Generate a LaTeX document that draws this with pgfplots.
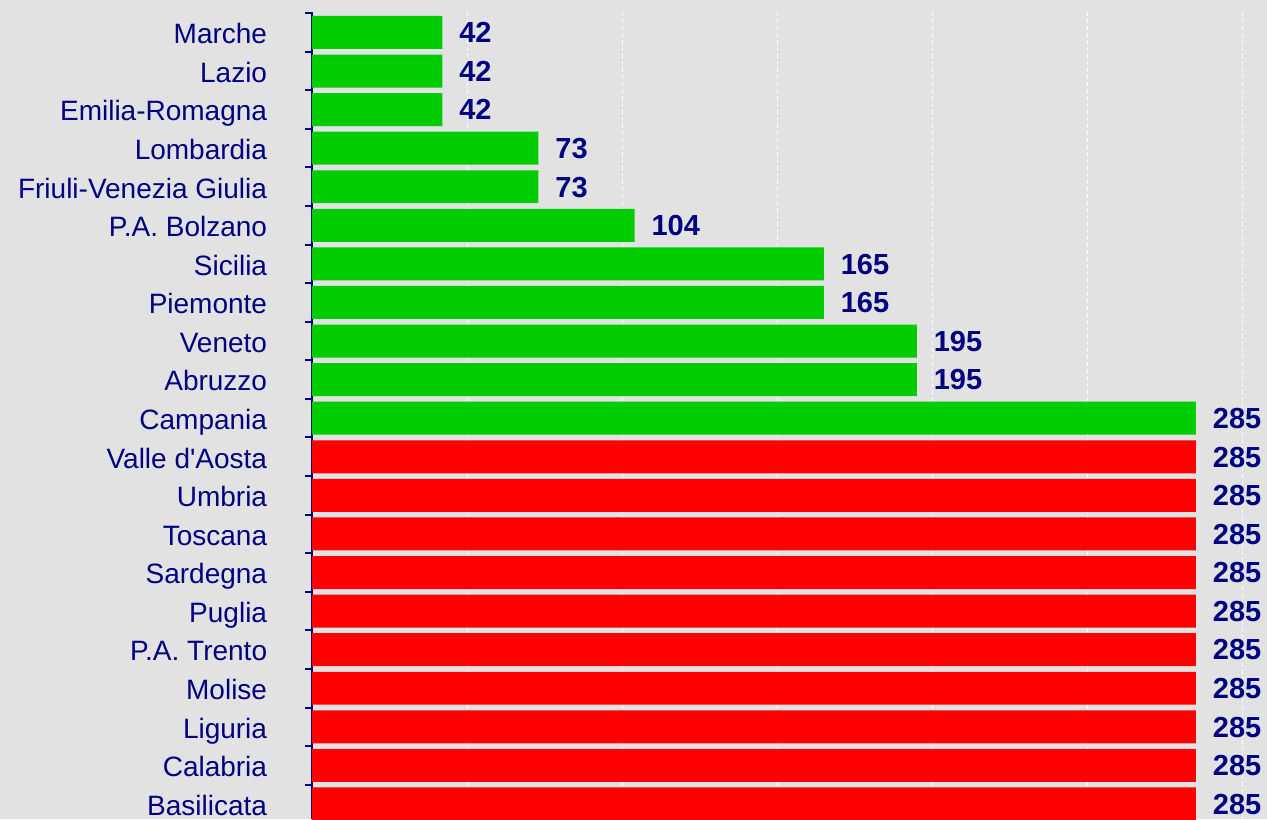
\documentclass[border=0pt]{standalone}
\usepackage{pgfplots}
\pgfplotsset{compat=1.18}
\usepackage{fontspec}
\setmainfont{Liberation Sans}

\definecolor{bg}{RGB}{226,226,226}
\definecolor{navytext}{RGB}{0,0,128}
\definecolor{barg}{RGB}{0,204,0}
\definecolor{barr}{RGB}{255,0,0}

\begin{document}
\begin{tikzpicture}
% textured page background, drawn as a flat grey
\fill[bg] (-156pt,0) rectangle (477.5pt,409.5pt);
\begin{axis}[
  at={(0,0)}, anchor=south west,
  width=477.5pt, height=403.5pt, scale only axis,
  /pgf/number format/assume math mode=true,
  xbar, bar width=0.855, bar shift=0pt,
  xmin=0, xmax=307.9,
  ymin=-0.53, ymax=20.39, y dir=reverse,
  axis lines*=left,
  x axis line style={draw=none},
  y axis line style={draw=navytext, line width=1pt, -},
  xtick={50,100,...,300}, xticklabels={},
  xtick style={draw=none},
  xmajorgrids,
  major x grid style={white, line width=0.5pt, dash pattern=on 2pt off 1.5pt},
  ytick={0,...,20},
  yticklabels={Marche,Lazio,Emilia-Romagna,Lombardia,Friuli-Venezia Giulia,
    P.A. Bolzano,Sicilia,Piemonte,Veneto,Abruzzo,Campania,
    Valle d\textquotesingle Aosta,Umbria,Toscana,Sardegna,Puglia,P.A. Trento,
    Molise,Liguria,Calabria,Basilicata},
  ytick style={draw=none},
  minor ytick={-0.5,0.5,...,19.5},
  minor y tick style={draw=navytext, line width=1pt},
  minor tick length=3.5pt,
  tick align=outside,
  yticklabel style={font=\fontsize{14pt}{14pt}\selectfont, text=navytext,
    anchor=mid east, inner sep=0pt, xshift=-18pt, yshift=-3pt},
  nodes near coords,
  every node near coord/.append style={font=\bfseries\fontsize{14.5pt}{14.5pt}\selectfont,
    text=navytext, anchor=mid west, inner sep=0pt, xshift=8.3pt, yshift=-2.5pt},
  clip=false,
]
\addplot[fill=barg, draw=none] coordinates {
  (42,0) (42,1) (42,2) (73,3) (73,4) (104,5) (165,6) (165,7) (195,8) (195,9) (285,10)
};
\addplot[fill=barr, draw=none] coordinates {
  (285,11) (285,12) (285,13) (285,14) (285,15) (285,16) (285,17) (285,18) (285,19) (285,20)
};
\end{axis}
\pgfresetboundingbox
\useasboundingbox (-156pt,0) rectangle (477.5pt,409.5pt);
\end{tikzpicture}
\end{document}
